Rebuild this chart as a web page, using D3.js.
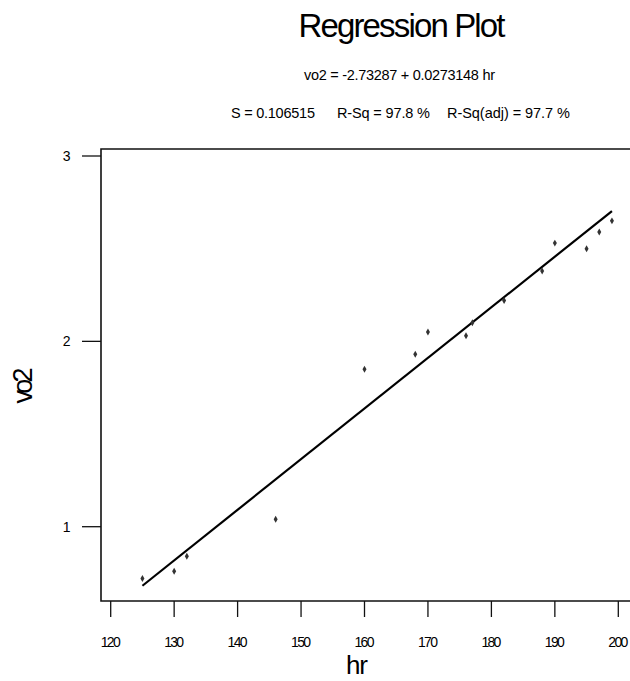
<!DOCTYPE html>
<html>
<head>
<meta charset="utf-8">
<script src="https://cdn.jsdelivr.net/npm/d3@7"></script>
<style>
  html, body { margin: 0; padding: 0; background: #fff; }
  svg { display: block; }
  text { font-family: "Liberation Sans", Arial, sans-serif; fill: #000; }
</style>
</head>
<body>
<svg id="chart" width="630" height="681"></svg>
<script>
// ---- data ----
const hr  = [125, 130, 132, 146, 160, 168, 170, 176, 177, 182, 188, 190, 195, 197, 199];
const vo2 = [0.72, 0.76, 0.84, 1.04, 1.85, 1.93, 2.05, 2.03, 2.10, 2.22, 2.38, 2.53, 2.50, 2.59, 2.65];
const coef = [-2.73287, 0.0273148];          // intercept, slope
const xTicks = [120, 130, 140, 150, 160, 170, 180, 190, 200];
const yTicks = [1, 2, 3];
const titleText = "Regression Plot";
const eqText = "vo2 = -2.73287 + 0.0273148 hr";
const statTexts = ["S = 0.106515", "R-Sq = 97.8 %", "R-Sq(adj) = 97.7 %"];
const xLabel = "hr", yLabel = "vo2";

// ---- layout ----
const svg = d3.select("#chart");
const box = {left: 101, top: 149, right: 650, bottom: 601};
const x = d3.scaleLinear().domain([120, 200]).range([110.7, 618.3]);
const y = d3.scaleLinear().domain([1, 3]).range([526.7, 156]);

function txt(s, xc, yb, size, len) {
  svg.append("text").attr("x", xc).attr("y", yb)
    .attr("text-anchor", "middle").attr("font-size", size)
    .attr("textLength", len).attr("lengthAdjust", "spacing")
    .text(s);
}
txt(titleText, 402, 37, 33, 207);
txt(eqText, 399.5, 80, 14.5, 191);
txt(statTexts[0], 273, 118, 14.5, 84);
txt(statTexts[1], 383.5, 118, 14.5, 93);
txt(statTexts[2], 508.5, 118, 14.5, 123);

// box
svg.append("path")
  .attr("d", `M${box.right},${box.top}H${box.left}V${box.bottom}H${box.right}`)
  .attr("fill", "none").attr("stroke", "#111").attr("stroke-width", 1.6);

// y ticks
svg.selectAll(".yt").data(yTicks).join("line")
  .attr("x1", 82).attr("x2", box.left)
  .attr("y1", d => y(d)).attr("y2", d => y(d))
  .attr("stroke", "#111").attr("stroke-width", 1.3);
svg.selectAll(".yl").data(yTicks).join("text")
  .attr("x", 70.5).attr("y", d => y(d) + 5)
  .attr("text-anchor", "end").attr("font-size", 14)
  .text(d => d);

// x ticks
svg.selectAll(".xt").data(xTicks).join("line")
  .attr("x1", d => x(d)).attr("x2", d => x(d))
  .attr("y1", box.bottom).attr("y2", 617)
  .attr("stroke", "#111").attr("stroke-width", 1.3);
svg.selectAll(".xl").data(xTicks).join("text")
  .attr("x", d => x(d)).attr("y", 647)
  .attr("text-anchor", "middle").attr("font-size", 14)
  .attr("textLength", 20).attr("lengthAdjust", "spacing")
  .text(d => d);

// axis labels
svg.append("text").attr("x", 357).attr("y", 674)
  .attr("text-anchor", "middle").attr("font-size", 26)
  .attr("textLength", 22).attr("lengthAdjust", "spacing")
  .text(xLabel);
svg.append("text")
  .attr("transform", "translate(31.5,385.5) rotate(-90)")
  .attr("text-anchor", "middle").attr("font-size", 27)
  .attr("textLength", 36).attr("lengthAdjust", "spacing")
  .text(yLabel);

// regression line
const xr = d3.extent(hr);
const line = d3.line().x(d => x(d)).y(d => y(coef[0] + coef[1] * d));
svg.append("path").datum(xr).attr("d", line)
  .attr("fill", "none").attr("stroke", "#000").attr("stroke-width", 2.2);

// points
const pts = hr.map((h, i) => ({h, v: vo2[i]}));
svg.selectAll(".pt").data(pts).join("path")
  .attr("transform", d => `translate(${x(d.h)},${y(d.v)})`)
  .attr("d", d3.symbol(d3.symbolDiamond).size(14))
  .attr("fill", "#333");
</script>
</body>
</html>
